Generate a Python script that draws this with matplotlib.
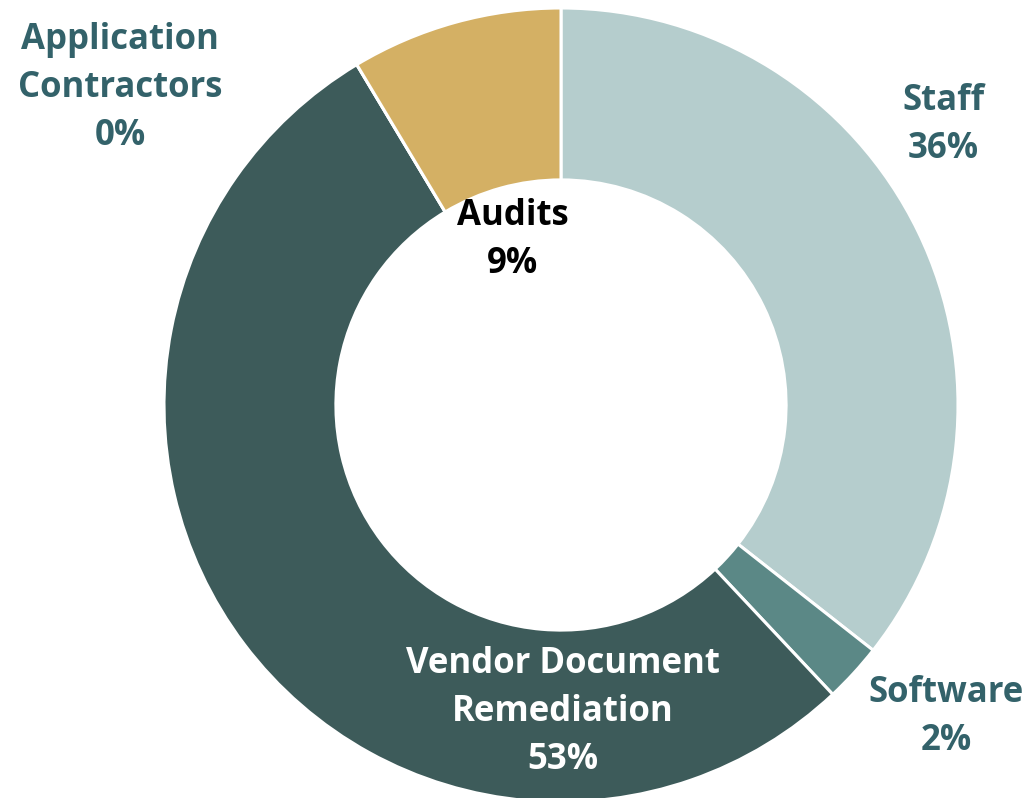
import matplotlib
matplotlib.use("Agg")
import matplotlib.pyplot as plt

categories = ["Staff", "Software", "Vendor Document\nRemediation", "Application\nContractors", "Audits"]
values = [35.6, 2.4, 53.4, 0.0, 8.6]
pct_labels = ["36%", "2%", "53%", "0%", "9%"]
colors = ["#b5cdcd", "#5b8886", "#3d5b5a", "#3d5b5a", "#d4b064"]
label_colors = ["#33626a", "#33626a", "#ffffff", "#33626a", "#000000"]

W, H, DPI = 1033, 798, 100
cx, cy, R = 561, 405, 397  # pixel center (from top) and radius

fig = plt.figure(figsize=(W / DPI, H / DPI), dpi=DPI)
ax = fig.add_axes([0, 0, 1, 1])

ax.pie(values, colors=colors, startangle=90, counterclock=False, radius=1.0,
       wedgeprops=dict(width=0.433, edgecolor="white", linewidth=2.2))

ax.set_xlim(-cx / R, (W - cx) / R)
ax.set_ylim(-(H - cy) / R, cy / R)
ax.set_aspect("equal")
ax.axis("off")

def px(x, y):
    return (x - cx) / R, (cy - y) / R

label_pos = [(943, 125), (946, 717), (563, 712), (120, 88), (513, 240)]
font = dict(family=["Open Sans", "DejaVu Sans"], fontweight="bold", fontsize=25)
for cat, pct, col, (x, y) in zip(categories, pct_labels, label_colors, label_pos):
    ax.text(*px(x, y), f"{cat}\n{pct}", ha="center", va="center", color=col,
            linespacing=1.45, **font)

fig.savefig("out.png", dpi=DPI)
